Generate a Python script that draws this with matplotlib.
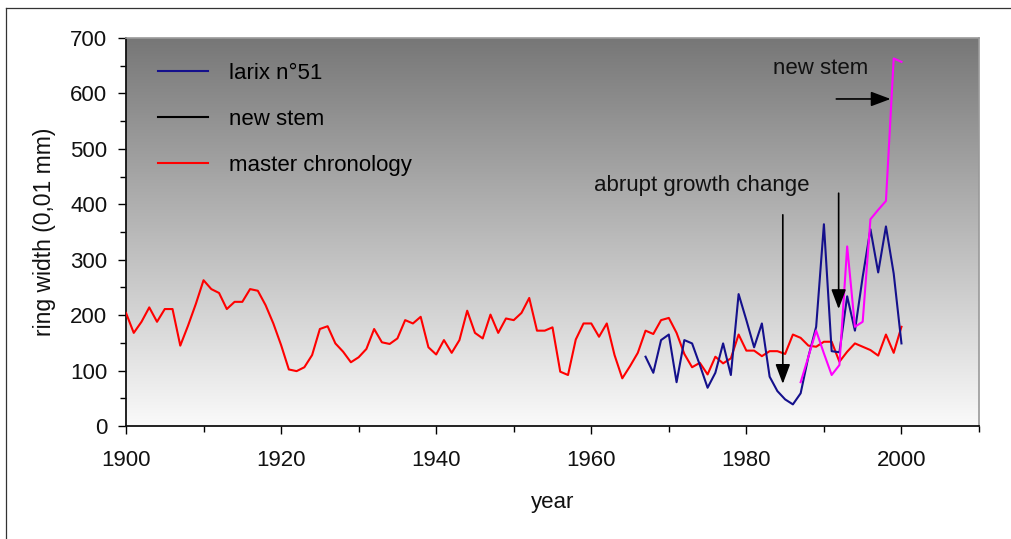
import numpy as np
import matplotlib
matplotlib.use("Agg")
import matplotlib.pyplot as plt
from matplotlib.lines import Line2D

plt.rcParams['font.family'] = ['Liberation Sans', 'DejaVu Sans']

# ---------------- data ----------------
master_years = list(range(1900, 2001))
master_values = [204, 168, 188, 214, 188, 211, 211, 145, 181, 220,
                 263, 247, 240, 211, 224, 224, 247, 244, 218, 185,
                 146, 102, 99, 106, 128, 175, 180, 149, 134, 115,
                 124, 139, 175, 151, 148, 158, 191, 185, 197, 142,
                 129, 155, 132, 155, 208, 168, 158, 201, 168, 194,
                 191, 204, 231, 172, 172, 178, 98, 92, 156, 185,
                 185, 161, 185, 128, 86, 108, 132, 172, 166, 191,
                 195, 168, 130, 106, 114, 93, 125, 113, 122, 165,
                 136, 136, 126, 135, 135, 130, 165, 159, 145, 143,
                 152, 152, 116, 134, 149, 143, 137, 127, 165, 132, 179]

larix_years = list(range(1967, 2001))
larix_values = [125, 96, 155, 165, 79, 155, 149, 110, 69, 96,
                149, 92, 238, 191, 142, 185, 89, 63, 48, 39,
                59, 125, 179, 364, 135, 133, 234, 172, 269, 355,
                277, 360, 275, 149]

stem_years = list(range(1987, 2001))
stem_values = [79, 125, 172, 131, 92, 110, 324, 179, 188, 373, 390, 406, 663, 657]

legend_labels = ["larix n\u00b051", "new stem", "master chronology"]
x_ticks_major = list(range(1900, 2001, 20))
x_ticks_minor = list(range(1910, 2011, 20))
y_ticks_major = list(range(0, 701, 100))
y_ticks_minor = list(range(50, 700, 100))

# ---------------- figure ----------------
W, H = 1011, 539
fig = plt.figure(figsize=(W / 100, H / 100), dpi=100, facecolor='white')
ax = fig.add_axes([126 / W, 1 - 426 / H, (979 - 126) / W, (426 - 38) / H])

# gradient background of plot area
g = np.linspace(0x77, 0xfa, 256) / 255.0
grad = np.dstack([g, g, g]).reshape(256, 1, 3)
ax.imshow(grad, extent=[1900, 2010, 0, 700], aspect='auto', zorder=0,
          interpolation='bilinear')

c_blue = '#14108c'
c_red = '#ff0000'
c_mag = '#ff00ff'

ax.plot(master_years, master_values, color=c_red, lw=1.5, zorder=3)
ax.plot(larix_years, larix_values, color=c_blue, lw=1.5, zorder=4)
ax.plot(stem_years, stem_values, color=c_mag, lw=1.5, zorder=5)

ax.set_xlim(1900, 2010)
ax.set_ylim(0, 700)

ax.set_xticks(x_ticks_major)
ax.set_xticks(x_ticks_minor, minor=True)
ax.set_yticks(y_ticks_major)
ax.set_yticks(y_ticks_minor, minor=True)

ax.tick_params(axis='both', which='both', direction='out', color='black',
               width=1.0, labelsize=16, labelcolor='#111111')
ax.tick_params(axis='both', which='major', length=5.5)
ax.tick_params(axis='both', which='minor', length=4.5)
ax.tick_params(axis='x', which='major', pad=12)
ax.tick_params(axis='y', which='major', pad=8)

for s in ['left', 'bottom']:
    ax.spines[s].set_color('#111111')
    ax.spines[s].set_linewidth(1.3)
for s in ['top', 'right']:
    ax.spines[s].set_color('#9a9a9a')
    ax.spines[s].set_linewidth(1.2)

ax.set_xlabel('year', fontsize=16, labelpad=15, color='#111111')
ax.set_ylabel('ring width (0,01 mm)', fontsize=16.5, labelpad=10, color='#111111')

# legend
handles = [Line2D([], [], color=c_blue, lw=1.5),
           Line2D([], [], color='black', lw=1.5),
           Line2D([], [], color=c_red, lw=1.5)]
ax.legend(handles, legend_labels, loc='upper left',
          bbox_to_anchor=((158 - 126) / 853, 1 - (63 - 38) / 388),
          frameon=False, fontsize=16, handlelength=2.25, handletextpad=0.95,
          labelspacing=1.12, borderpad=0, borderaxespad=0)

# annotations
ax.text(1989.6, 645, 'new stem', fontsize=16, ha='center', va='center', color='#111111')
ax.text(1960.4, 433, 'abrupt growth change', fontsize=16, ha='left', va='center', color='#111111')
arrow_kw = dict(arrowstyle='-|>,head_length=1.2,head_width=0.45', color='black',
                lw=1.2, shrinkA=0, shrinkB=0, mutation_scale=10)
ax.annotate('', xy=(1984.7, 76), xytext=(1984.7, 381), arrowprops=arrow_kw, zorder=6)
ax.annotate('', xy=(1991.9, 211), xytext=(1991.9, 420), arrowprops=arrow_kw, zorder=6)
ax.annotate('', xy=(1998.6, 590), xytext=(1991.6, 590), arrowprops=arrow_kw, zorder=6)

# outer frame of the chart
fig.add_artist(Line2D([6 / W, 6 / W], [0, 1 - 8 / H], transform=fig.transFigure,
                      color='#333333', lw=0.9))
fig.add_artist(Line2D([6 / W, 1], [1 - 8 / H, 1 - 8 / H], transform=fig.transFigure,
                      color='#333333', lw=0.9))

fig.savefig('out.png', dpi=100, facecolor='white')
